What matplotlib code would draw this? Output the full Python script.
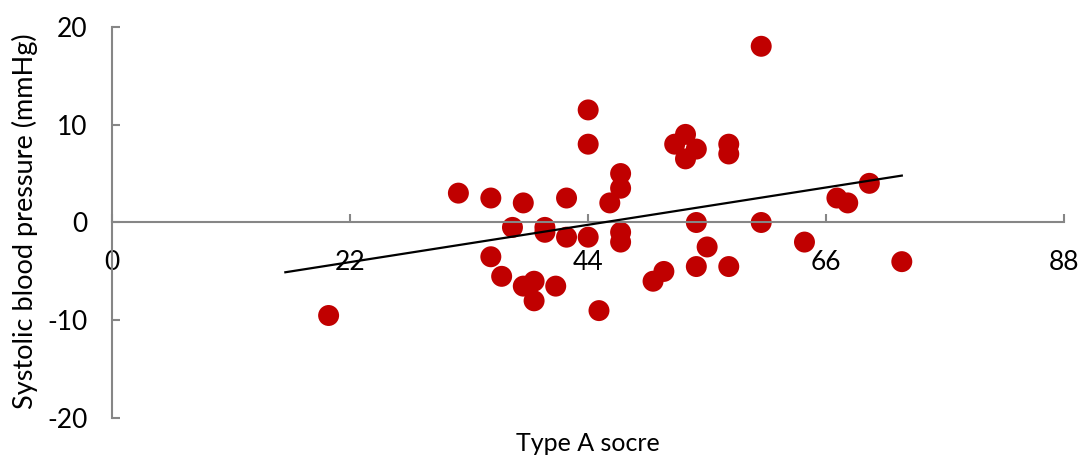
import matplotlib.pyplot as plt
import numpy as np

# Type A score vs change in systolic blood pressure
type_a_score = [20, 32, 35, 38, 42, 46, 47, 47, 37, 40, 40, 42, 44, 47, 47,
                35, 36, 38, 39, 39, 41, 45, 60, 44, 44, 52, 53, 54, 53, 57,
                57, 54, 60, 55, 54, 57, 51, 50, 64, 67, 68, 70, 73]
sbp_change = [-9.5, 3, 2.5, 2, 2.5, 2, 5, 3.5, -0.5, -0.5, -1, -1.5, -1.5, -1, -2,
              -3.5, -5.5, -6.5, -6, -8, -6.5, -9, 18, 11.5, 8, 8, 9, 7.5, 6.5, 8,
              7, 0, 0, -2.5, -4.5, -4.5, -5, -6, -2, 2.5, 2, 4, -4]

x_ticks = [0, 22, 44, 66, 88]
y_ticks = [-20, -10, 0, 10, 20]
backward_forecast = 4

plt.rcParams['font.family'] = ['Lato', 'DejaVu Sans']
plt.rcParams['axes.unicode_minus'] = False

fig = plt.figure(figsize=(10.81, 4.55), dpi=100)
ax = fig.add_axes([0.1039, 0.0807, 0.8804, 0.8606])

x = np.array(type_a_score)
y = np.array(sbp_change)

ax.scatter(x, y, s=228, color='#C00000', edgecolors='none', zorder=2)

# linear trendline (with a small backward forecast, like the original)
slope, intercept = np.polyfit(x, y, 1)
tx = np.array([x.min() - backward_forecast, x.max()])
ax.plot(tx, slope * tx + intercept, color='black', lw=1.6, zorder=3)

ax.set_xlim(0, 88)
ax.set_ylim(-20, 20)
ax.set_xticks(x_ticks)
ax.set_yticks(y_ticks)

axis_grey = '#868686'
ax.spines['top'].set_visible(False)
ax.spines['right'].set_visible(False)
ax.spines['bottom'].set_position(('data', 0))
for s in ['left', 'bottom']:
    ax.spines[s].set_color(axis_grey)
    ax.spines[s].set_linewidth(1.5)

ax.tick_params(axis='both', direction='in', length=6, width=1.5,
               color=axis_grey, labelsize=19, labelcolor='black')
ax.tick_params(axis='x', pad=20)
ax.tick_params(axis='y', pad=18)

ax.set_xlabel('Type A socre', fontsize=18)
ax.set_ylabel('Systolic blood pressure (mmHg)', fontsize=19.5)
ax.xaxis.set_label_coords(0.5, -0.035)
ax.yaxis.set_label_coords(-0.078, 0.504)

fig.savefig('out.png', dpi=100)
